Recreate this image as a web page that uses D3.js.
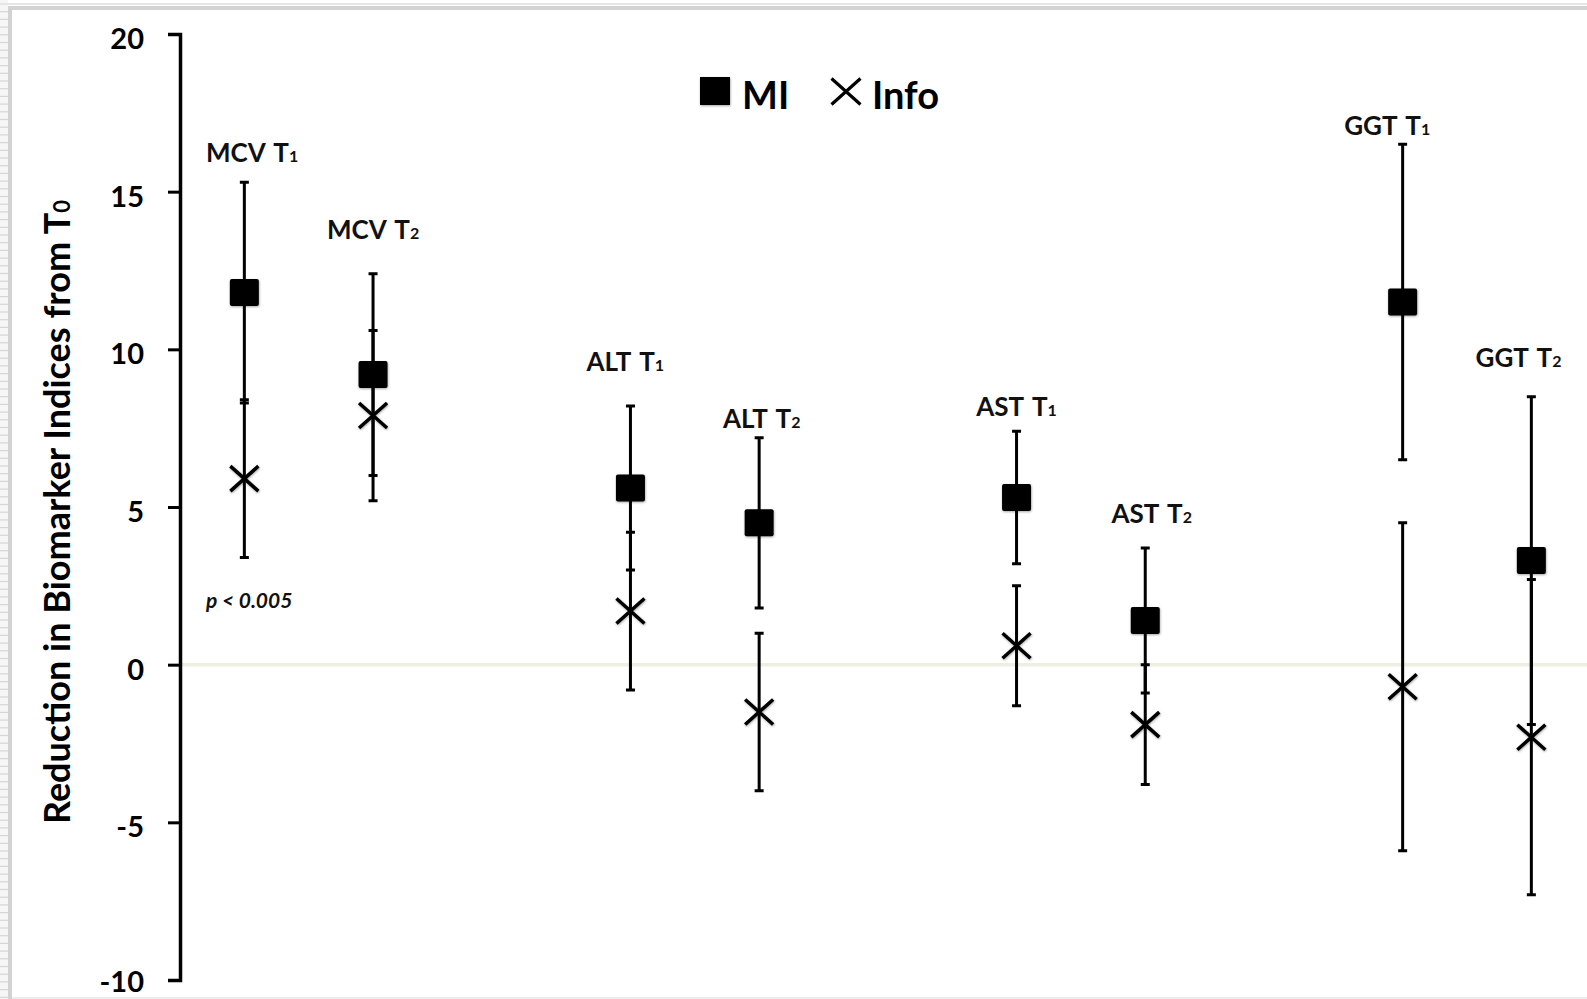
<!DOCTYPE html>
<html>
<head>
<meta charset="utf-8">
<script src="https://cdn.jsdelivr.net/npm/d3@7"></script>
<style>
  html, body { margin: 0; padding: 0; background: #fff; }
  svg { display: block; }
</style>
</head>
<body>
<div id="canvas"></div>
<script>
// DATA ========================================================================

var MARKERS = ["MCV", "MCV", "ALT", "ALT", "AST", "AST", "GGT", "GGT"]
var TIMES = ["1", "2", "1", "2", "1", "2", "1", "2"]
var XPOS = [1, 2, 4, 5, 7, 8, 10, 11]

var MI_MEAN = [11.8, 9.2, 5.6, 4.5, 5.3, 1.4, 11.5, 3.3]
var MI_ERR = [3.5, 3.2, 2.6, 2.7, 2.1, 2.3, 5.0, 5.2]
var INFO_MEAN = [5.9, 7.9, 1.7, -1.5, 0.6, -1.9, -0.7, -2.3]
var INFO_ERR = [2.5, 2.7, 2.5, 2.5, 1.9, 1.9, 5.2, 5.0]

// where the hand-placed labels sit, in axis units
var LABEL_X = [1.06, 2.0, 3.96, 5.02, 7.0, 8.05, 9.88, 10.9]
var LABEL_Y = [15.94, 13.5, 9.3, 7.51, 7.87, 4.49, 16.8, 9.45]

var Y_TICKS = [-10, -5, 0, 5, 10, 15, 20]

// GLOBAL VARIABLES ============================================================

var WIDTH = 1587
var HEIGHT = 999
var FONT = "Lato, 'Open Sans', sans-serif"

var AXIS_X = 180
var Y_TOP = 34
var Y_BOTTOM = 980
var STEP = 128.7

var CAP = 9
var SQUARE = 29

// -----------------------------------------------------------------------------

function translate(x, y) {
    return "translate(" + x + "," + y + ")"
}

function cross(g, x, y, w, h, sw) {
    g.append("path")
        .attr("d", "M" + (x - w/2) + "," + (y - h/2) + "L" + (x + w/2) + "," + (y + h/2)
            + "M" + (x + w/2) + "," + (y - h/2) + "L" + (x - w/2) + "," + (y + h/2))
        .attr("stroke", "#000")
        .attr("stroke-width", sw)
        .attr("fill", "none")
}

function generate() {
    let svg = d3.select("#canvas").append("svg")
        .attr("width", WIDTH)
        .attr("height", HEIGHT)

    let defs = svg.append("defs")
    let f = defs.append("filter").attr("id", "soft")
        .attr("x", "-30%").attr("y", "-30%").attr("width", "160%").attr("height", "160%")
    f.append("feDropShadow")
        .attr("dx", 0.5).attr("dy", 1)
        .attr("stdDeviation", 1.3)
        .attr("flood-color", "#000")
        .attr("flood-opacity", 0.35)

    svg.append("rect").attr("width", WIDTH).attr("height", HEIGHT).attr("fill", "#fff")

    // Frame round the picture.
    svg.append("rect").attr("x", 0).attr("y", 0).attr("width", 8).attr("height", HEIGHT).attr("fill", "#f6f6f6")
    svg.append("g").selectAll("line")
        .data(d3.range(4, HEIGHT, 7.7)).enter()
        .append("line")
            .attr("x1", 0).attr("x2", 8)
            .attr("y1", d => d).attr("y2", d => d)
            .attr("stroke", "#d6d6d6")
            .attr("stroke-width", 1.2)
    svg.append("rect").attr("x", 0).attr("y", 3).attr("width", WIDTH).attr("height", 2).attr("fill", "#e6e6e6")
    svg.append("rect").attr("x", 8).attr("y", 6).attr("width", WIDTH - 8).attr("height", 4).attr("fill", "#d2d2d2")
    svg.append("rect").attr("x", 8).attr("y", 6).attr("width", 4).attr("height", HEIGHT - 6).attr("fill", "#d2d2d2")
    svg.append("rect").attr("x", 12).attr("y", HEIGHT - 2).attr("width", WIDTH - 12).attr("height", 2).attr("fill", "#ececec")

    let x = d3.scaleLinear().domain([0.5, 12]).range([AXIS_X, AXIS_X + 11.5*STEP])
    let y = d3.scaleLinear().domain([-10, 20]).range([Y_BOTTOM, Y_TOP])

    // Zero line.
    svg.append("line")
        .attr("x1", AXIS_X).attr("x2", WIDTH)
        .attr("y1", y(0)).attr("y2", y(0))
        .attr("stroke", "#efeee2")
        .attr("stroke-width", 3.5)

    // Y axis.
    let axis = svg.append("g")
        .attr("transform", translate(AXIS_X, 0))
        .call(d3.axisLeft(y).tickValues(Y_TICKS).tickFormat(d => String(d))
            .tickSize(12).tickSizeOuter(12).tickPadding(24))
    axis.select(".domain").attr("stroke", "#000").attr("stroke-width", 3.5)
    axis.selectAll(".tick line").attr("stroke", "#000").attr("stroke-width", 3)
    axis.selectAll(".tick text")
        .attr("font-family", FONT)
        .attr("font-weight", "bold")
        .attr("font-size", "29px")
        .attr("fill", "#000")
        .attr("dy", d => d === -10 ? "0.38em" : "0.5em")

    // Axis title.
    let title = svg.append("text")
        .attr("transform", translate(70, 512) + " rotate(-90)")
        .attr("text-anchor", "middle")
        .attr("font-family", FONT)
        .attr("font-weight", "bold")
        .attr("font-size", "36px")
        .attr("fill", "#000")
    title.append("tspan").text("Reduction in Biomarker Indices from T")
    title.append("tspan").text("0").attr("font-size", "22px")

    let idx = d3.range(XPOS.length)
    let bars = svg.append("g").attr("stroke", "#000").attr("fill", "none")

    // Error bars, both series.
    ;[[MI_MEAN, MI_ERR], [INFO_MEAN, INFO_ERR]].forEach(function(s) {
        let m = s[0], e = s[1]
        bars.selectAll(null)
            .data(idx).enter()
            .append("path")
                .attr("d", i => "M" + x(XPOS[i]) + "," + y(m[i] + e[i]) + "V" + y(m[i] - e[i])
                    + "M" + (x(XPOS[i]) - CAP/2) + "," + y(m[i] + e[i]) + "h" + CAP
                    + "M" + (x(XPOS[i]) - CAP/2) + "," + y(m[i] - e[i]) + "h" + CAP)
                .attr("stroke-width", 3)
    })

    // MI squares.
    svg.append("g").selectAll("rect")
        .data(idx).enter()
        .append("rect")
            .attr("x", i => x(XPOS[i]) - SQUARE/2)
            .attr("y", i => y(MI_MEAN[i]) - 27/2)
            .attr("width", SQUARE)
            .attr("height", 27)
            .attr("rx", 2)
            .attr("fill", "#000")
            .attr("filter", "url(#soft)")

    // Info crosses.
    let crosses = svg.append("g").attr("filter", "url(#soft)")
    idx.forEach(i => cross(crosses, x(XPOS[i]), y(INFO_MEAN[i]), 28, 25, 3.5))

    // Point labels.
    let labels = svg.append("g")
        .attr("font-family", FONT)
        .attr("font-weight", "bold")
        .attr("font-size", "26px")
        .attr("word-spacing", "3px")
        .attr("fill", "#111")
        .attr("text-anchor", "middle")
    labels.selectAll("text")
        .data(idx).enter()
        .append("text")
            .attr("x", i => x(LABEL_X[i]))
            .attr("y", i => y(LABEL_Y[i]))
            .each(function(i) {
                let t = d3.select(this)
                t.append("tspan").text(MARKERS[i] + " T")
                t.append("tspan").text(TIMES[i]).attr("font-size", "16px")
            })

    // p value note.
    svg.append("text")
        .attr("x", 206).attr("y", 608)
        .attr("font-family", FONT)
        .attr("font-weight", "bold")
        .attr("font-style", "italic")
        .attr("font-size", "21px")
        .attr("fill", "#111")
        .text("p < 0.005")

    // Legend.
    let legend = svg.append("g")
        .attr("font-family", FONT)
        .attr("font-weight", "bold")
        .attr("font-size", "38px")
        .attr("fill", "#000")
    legend.append("rect")
        .attr("x", 700).attr("y", 77).attr("width", 30).attr("height", 28)
        .attr("fill", "#000").attr("filter", "url(#soft)")
    legend.append("text").attr("x", 742).attr("y", 109).text("MI")
    cross(legend, 846, 91.5, 29, 26, 3.2)
    legend.append("text").attr("x", 872).attr("y", 109).text("Info")
}

generate()
</script>
</body>
</html>
